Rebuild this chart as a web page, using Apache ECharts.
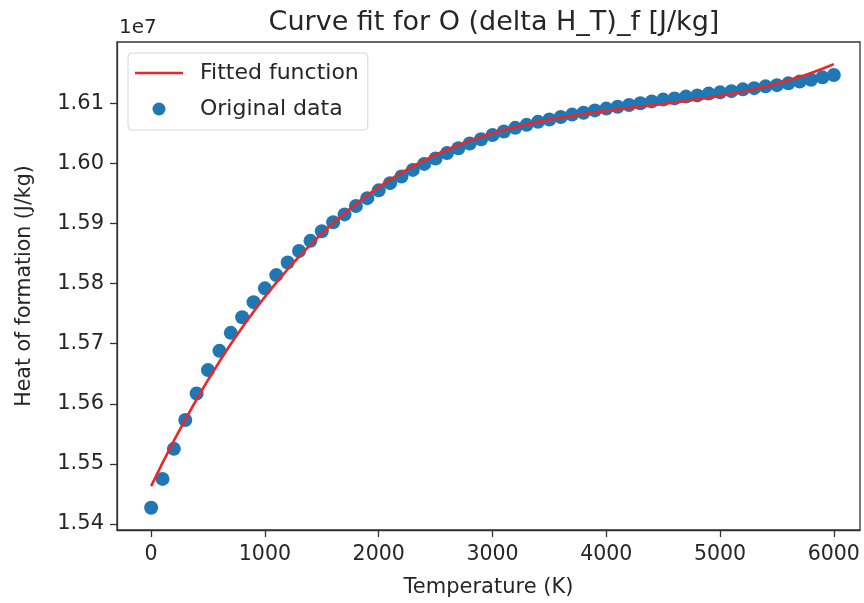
<!DOCTYPE html>
<html>
<head>
<meta charset="utf-8">
<script src="https://cdn.jsdelivr.net/npm/echarts@6/dist/echarts.min.js"></script>
<style>
  html, body { margin: 0; padding: 0; background: #ffffff; }
  #chart { width: 864px; height: 603px; }
</style>
</head>
<body>
<div id="chart"></div>
<script>
// Temperatures (K)
const temperatures = [
  0, 100, 200, 300, 400, 500, 600, 700, 800, 900,
  1000, 1100, 1200, 1300, 1400, 1500, 1600, 1700, 1800, 1900,
  2000, 2100, 2200, 2300, 2400, 2500, 2600, 2700, 2800, 2900,
  3000, 3100, 3200, 3300, 3400, 3500, 3600, 3700, 3800, 3900,
  4000, 4100, 4200, 4300, 4400, 4500, 4600, 4700, 4800, 4900,
  5000, 5100, 5200, 5300, 5400, 5500, 5600, 5700, 5800, 5900,
  6000
];

// Original data, heat of formation (J/kg)
const originalData = [
  15427000, 15475000, 15525000, 15573000, 15617000, 15656000, 15688000, 15718000, 15744000, 15769000,
  15792000, 15814000, 15835000, 15854000, 15871000, 15887000, 15902000, 15915000, 15929000, 15942000,
  15955000, 15967000, 15978000, 15989000, 15999000, 16008000, 16017000, 16025000, 16033000, 16040000,
  16047000, 16053000, 16059000, 16064000, 16069000, 16073000, 16077000, 16081000, 16084000, 16088000,
  16091000, 16094000, 16097000, 16100000, 16103000, 16106000, 16108000, 16111000, 16113000, 16116000,
  16118000, 16120000, 16123000, 16125000, 16128000, 16130000, 16133000, 16136000, 16139000, 16143000,
  16147000
];

// Fitted function values (J/kg)
const fittedData = [
  15463000, 15501600, 15538500, 15573800, 15607500, 15639600, 15670200, 15699300, 15726900, 15753100,
  15778000, 15801500, 15823800, 15844800, 15864600, 15883200, 15900700, 15917100, 15932500, 15946900,
  15960300, 15972800, 15984300, 15995100, 16005000, 16014200, 16022600, 16030400, 16037500, 16044000,
  16050000, 16055400, 16060300, 16064800, 16068900, 16072700, 16076100, 16079200, 16082100, 16084700,
  16087200, 16089600, 16091900, 16094200, 16096400, 16098700, 16101100, 16103600, 16106300, 16109100,
  16112200, 16115600, 16119200, 16123300, 16127700, 16132600, 16138000, 16143800, 16150300, 16157300,
  16165000
];

// Tick values
const xTicks = [0, 1000, 2000, 3000, 4000, 5000, 6000];
const yTicks = [15400000, 15500000, 15600000, 15700000, 15800000, 15900000, 16000000, 16100000];

const titleText = 'Curve fit for O (delta H_T)_f [J/kg]';
const xLabel = 'Temperature (K)';
const yLabel = 'Heat of formation (J/kg)';
const offsetText = '1e7';
const seriesNames = ['Fitted function', 'Original data'];

const FONT = 'DejaVu Sans';
const TXT = '#262626';
const AX = '#333333';
const RED = '#f02525';
const BLUE = '#1f77b4';

const chart = echarts.init(document.getElementById('chart'), null, { renderer: 'canvas' });

const fitPairs = temperatures.map((t, i) => [t, fittedData[i]]);
const dataPairs = temperatures.map((t, i) => [t, originalData[i]]);

chart.setOption({
  animation: false,
  backgroundColor: '#ffffff',
  textStyle: { fontFamily: FONT },
  title: {
    text: titleText,
    left: 489,
    textAlign: 'center',
    top: 4,
    textStyle: { fontFamily: FONT, fontSize: 27, fontWeight: 'normal', color: TXT }
  },
  grid: {
    left: 117, right: 4, top: 42, bottom: 72,
    show: true, borderColor: AX, borderWidth: 1.3, backgroundColor: 'transparent'
  },
  legend: {
    orient: 'vertical',
    left: 128, top: 53,
    padding: [9, 9, 10, 7],
    itemGap: 14,
    itemWidth: 48,
    itemHeight: 13,
    backgroundColor: 'rgba(255,255,255,0.8)',
    borderColor: '#d6d6d6',
    borderWidth: 1,
    borderRadius: 4,
    data: [
      {
        name: seriesNames[0],
        icon: 'path://M0,0 M0,5.3 L48,5.3 L48,7.7 L0,7.7 Z M48,13',
        itemStyle: { color: RED }
      },
      { name: seriesNames[1], icon: 'circle' }
    ],
    textStyle: { fontFamily: FONT, fontSize: 22, color: TXT, padding: [0, 0, 0, 12] }
  },
  xAxis: {
    type: 'value',
    min: -300, max: 6230,
    name: xLabel,
    nameLocation: 'middle',
    nameGap: 47,
    nameTextStyle: { fontFamily: FONT, fontSize: 21, color: TXT },
    splitLine: { show: false },
    axisLine: { show: true, onZero: false, lineStyle: { color: AX, width: 1.3 } },
    axisTick: { show: true, length: 7, customValues: xTicks, lineStyle: { color: AX, width: 1.3 } },
    axisLabel: {
      customValues: xTicks, margin: 14,
      fontFamily: FONT, fontSize: 20.5, color: TXT,
      formatter: v => String(v)
    }
  },
  yAxis: {
    type: 'value',
    min: 15390000, max: 16201800,
    name: yLabel,
    nameLocation: 'middle',
    nameRotate: 90,
    nameGap: 82,
    nameTextStyle: { fontFamily: FONT, fontSize: 20.5, color: TXT },
    splitLine: { show: false },
    axisLine: { show: true, onZero: false, lineStyle: { color: AX, width: 1.3 } },
    axisTick: { show: true, length: 7, customValues: yTicks, lineStyle: { color: AX, width: 1.3 } },
    axisLabel: {
      customValues: yTicks, margin: 13,
      fontFamily: FONT, fontSize: 21, color: TXT,
      formatter: v => (v / 1e7).toFixed(2)
    }
  },
  graphic: [{
    type: 'text',
    left: 119, top: 18,
    style: { text: offsetText, font: '20px "DejaVu Sans"', fill: TXT }
  }],
  series: [
    {
      name: seriesNames[0],
      type: 'line',
      data: fitPairs,
      showSymbol: false,
      symbol: 'none',
      z: 5,
      lineStyle: { color: RED, width: 2.6 },
      itemStyle: { color: RED }
    },
    {
      name: seriesNames[1],
      type: 'scatter',
      data: dataPairs,
      symbol: 'circle',
      symbolSize: 14,
      z: 3,
      itemStyle: { color: BLUE, opacity: 1 }
    }
  ]
});
</script>
</body>
</html>
